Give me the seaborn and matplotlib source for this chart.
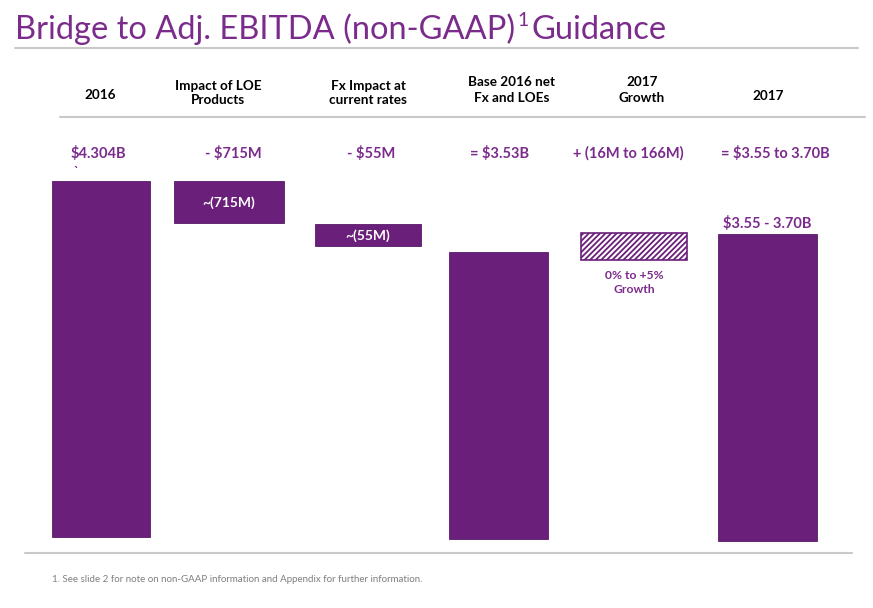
import matplotlib
matplotlib.use("Agg")
import matplotlib.pyplot as plt
import seaborn as sns
import pandas as pd

# ---------------- data (values in $B, bar extents) ----------------
categories = ["2016", "Impact of LOE\nProducts", "Fx Impact at\ncurrent rates",
              "Base 2016 net\nFx and LOEs", "2017\nGrowth", "2017"]
bar_top = [4.304, 4.304, 3.830, 3.530, 3.734, 3.731]
bar_bottom = [0.42, 3.841, 3.595, 0.40, 3.443, 0.38]
change_labels = ["$4.304B", "- $715M", "- $55M", "= $3.53B", "+ (16M to 166M)", "= $3.55 to 3.70B"]
inside_labels = ["", "~(715M)", "~(55M)", "", "", ""]
above_labels = ["", "", "", "", "", "$3.55 - 3.70B"]
below_labels = ["", "", "", "", "0% to +5%\nGrowth", ""]
title_main = "Bridge to Adj. EBITDA (non-GAAP)"
title_sup = "1"
title_end = "Guidance"
footnote = "1. See slide 2 for note on non-GAAP information and Appendix for further information."

df = pd.DataFrame({"category": categories,
                   "height": [t - b for t, b in zip(bar_top, bar_bottom)],
                   "bottom": bar_bottom})

# ---------------- style ----------------
sns.set_theme(style="white")
plt.rcParams["font.family"] = ["Lato", "DejaVu Sans"]
plt.rcParams["hatch.linewidth"] = 1.3
BAR = "#6A1F7A"
TXT = "#7B2B8C"
GRAY_LINE = "#C9C9C9"

W, H = 873, 608
fig = plt.figure(figsize=(W / 100, H / 100), dpi=100)

def fy(py):
    return 1 - py / H

def fx(px):
    return px / W

ax = fig.add_axes([34.35 / W, fy(548.2), 799.9 / W, (548.2 - 130) / H])
sns.barplot(data=df, x="category", y="height", bottom=df["bottom"].values,
            color=BAR, saturation=1, width=0.77, ax=ax, order=categories)
ax.set_xlim(-0.5, 5.5)
ax.set_ylim(0.30, 4.86)
ax.axis("off")

bar_widths = [0.735, 0.83, 0.795, 0.74, 0.795, 0.74]
bar_shift = [0.0, -0.04, 0.0, -0.02, 0.0, 0.0]
for i, p in enumerate(ax.patches[:len(categories)]):
    p.set_x(i + bar_shift[i] - bar_widths[i] / 2)
    p.set_width(bar_widths[i])
    p.set_edgecolor("#5A1868")
    p.set_linewidth(0.6)
hp = ax.patches[4]
hp.set_facecolor("white")
hp.set_edgecolor(BAR)
hp.set_hatch("//////")
hp.set_linewidth(1.2)

# header row
header_pos = [(100, 95, 1.2), (218, 93, 1.2), (368, 93, 1.2), (512, 90, 1.45), (642, 90, 1.45), (768, 96, 1.2)]
for lab, (px, py, ls) in zip(categories, header_pos):
    fig.text(fx(px), fy(py), lab, ha="center", va="center", fontsize=9.7,
             fontweight="bold", color="black", linespacing=ls)

# change labels row
change_x = [98, 233, 371, 500, 628, 775]
for lab, px in zip(change_labels, change_x):
    fig.text(fx(px), fy(153), lab.replace("$", r"\$"), ha="center", va="center",
             fontsize=10.5, fontweight="bold", color=TXT)
fig.text(fx(76), fy(172), "`", ha="center", va="center", fontsize=9,
         fontweight="bold", color=TXT)

# labels on bars
for i, lab in enumerate(inside_labels):
    if lab:
        ax.text(i + bar_shift[i], (bar_top[i] + bar_bottom[i]) / 2, lab, ha="center", va="center",
                fontsize=10, fontweight="bold", color="white")
for i, lab in enumerate(above_labels):
    if lab:
        ax.text(i + bar_shift[i], bar_top[i] + 0.03, lab.replace("$", r"\$"), ha="center", va="bottom",
                fontsize=10.5, fontweight="bold", color=TXT)
for i, lab in enumerate(below_labels):
    if lab:
        ax.text(i + bar_shift[i], bar_bottom[i] - 0.11, lab, ha="center", va="top",
                fontsize=8.7, fontweight="bold", color=TXT, linespacing=1.3)

# title
fig.canvas.draw()
r = fig.canvas.get_renderer()
t1 = fig.text(fx(15), fy(39), title_main, ha="left", va="baseline",
              fontsize=23.5, color=TXT)
bb = t1.get_window_extent(r)
t2 = fig.text((bb.x1 + 2) / W, fy(26), title_sup, ha="left", va="baseline",
              fontsize=14, color=TXT)
bb2 = t2.get_window_extent(r)
fig.text((bb2.x1 + 3) / W, fy(39), title_end, ha="left", va="baseline",
         fontsize=23.5, color=TXT)

# rules
for (x0, x1, py) in [(15, 858, 48), (60, 865, 117), (25, 852, 553)]:
    fig.add_artist(plt.Line2D([fx(x0), fx(x1)], [fy(py), fy(py)],
                              transform=fig.transFigure, color=GRAY_LINE, lw=1.5))

fig.text(fx(52), fy(580), footnote, ha="left", va="center", fontsize=7, color="#7F7F7F")

fig.savefig("out.png", dpi=100)
